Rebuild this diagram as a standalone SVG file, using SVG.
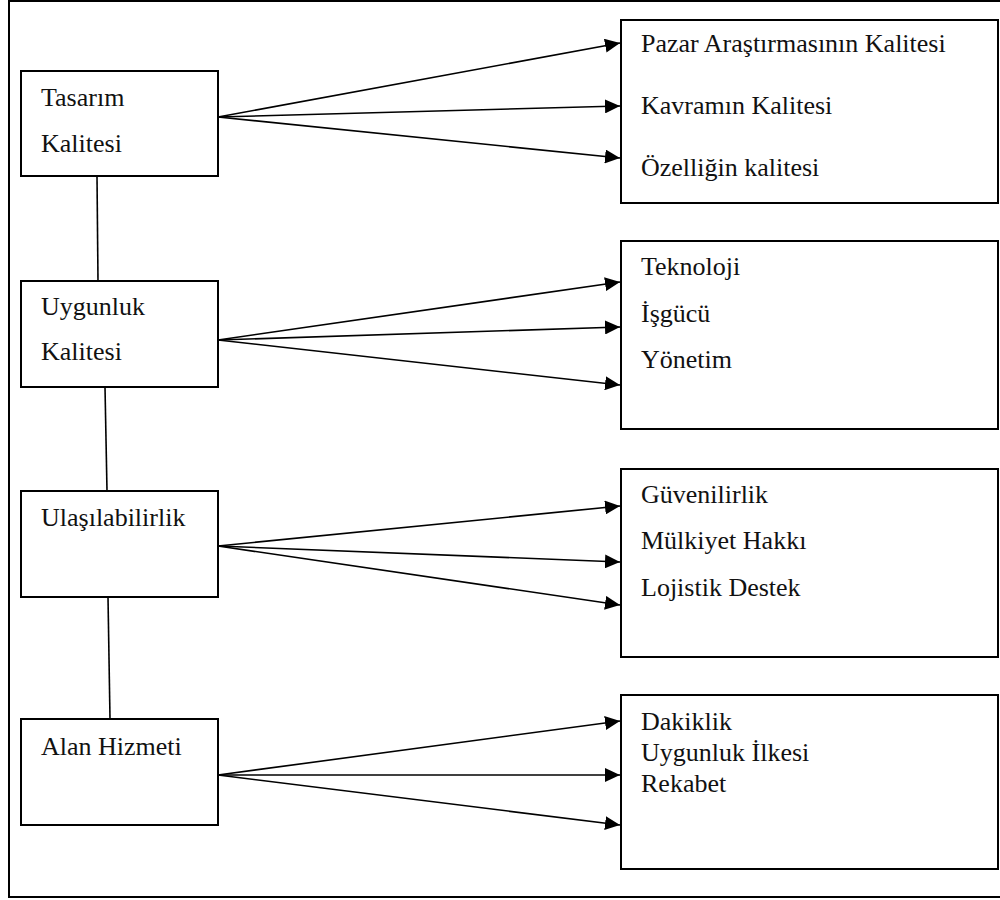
<svg xmlns="http://www.w3.org/2000/svg" width="1000" height="900" viewBox="0 0 1000 900">
<style>
.frame{fill:none;stroke:#000;stroke-width:2}
.box{fill:#fff;stroke:#000;stroke-width:2}
.lbl{font-family:"Liberation Serif","Times New Roman",serif;font-size:26px;fill:#111}
.conn{stroke:#000;stroke-width:1.6;fill:none}
.arr{stroke:#000;stroke-width:1.6;fill:none;marker-end:url(#ah)}
</style>
<defs>
<marker id="ah" markerUnits="userSpaceOnUse" markerWidth="16" markerHeight="14" refX="15" refY="7" orient="auto">
<path d="M0,0 L15,7 L0,14 z" fill="#000"/>
</marker>
</defs>
<rect width="1000" height="900" fill="#fff"/>
<rect class="frame" x="9" y="1" width="1010" height="896"/>
<g id="connectors">
<line class="conn" x1="97" y1="176" x2="98" y2="281"/>
<line class="conn" x1="105" y1="387" x2="107" y2="491"/>
<line class="conn" x1="108" y1="597" x2="110" y2="719"/>
<line class="arr" x1="218" y1="117" x2="620" y2="43"/>
<line class="arr" x1="218" y1="117" x2="620" y2="106"/>
<line class="arr" x1="218" y1="117" x2="620" y2="158"/>
<line class="arr" x1="218" y1="340" x2="620" y2="282"/>
<line class="arr" x1="218" y1="340" x2="620" y2="327"/>
<line class="arr" x1="218" y1="340" x2="620" y2="385"/>
<line class="arr" x1="218" y1="546" x2="620" y2="506"/>
<line class="arr" x1="218" y1="546" x2="620" y2="562"/>
<line class="arr" x1="218" y1="546" x2="620" y2="605"/>
<line class="arr" x1="218" y1="775" x2="620" y2="721"/>
<line class="arr" x1="218" y1="775" x2="620" y2="775"/>
<line class="arr" x1="218" y1="775" x2="620" y2="825"/>
</g>
<g id="tasarim">
<rect class="box" x="21" y="71" width="197" height="105"/>
<text class="lbl" x="41" y="106">Tasarım</text>
<text class="lbl" x="41" y="152">Kalitesi</text>
</g>
<g id="uygunluk">
<rect class="box" x="21" y="281" width="197" height="106"/>
<text class="lbl" x="41" y="315">Uygunluk</text>
<text class="lbl" x="41" y="360">Kalitesi</text>
</g>
<g id="ulasilabilirlik">
<rect class="box" x="21" y="491" width="197" height="106"/>
<text class="lbl" x="41" y="526">Ulaşılabilirlik</text>
</g>
<g id="alan">
<rect class="box" x="21" y="719" width="197" height="106"/>
<text class="lbl" x="41" y="755">Alan Hizmeti</text>
</g>
<g id="tasarim-items">
<rect class="box" x="621" y="20" width="377" height="183"/>
<text class="lbl" x="641" y="52">Pazar Araştırmasının Kalitesi</text>
<text class="lbl" x="641" y="114">Kavramın Kalitesi</text>
<text class="lbl" x="641" y="176">Özelliğin kalitesi</text>
</g>
<g id="uygunluk-items">
<rect class="box" x="621" y="241" width="377" height="188"/>
<text class="lbl" x="641" y="275">Teknoloji</text>
<text class="lbl" x="641" y="322">İşgücü</text>
<text class="lbl" x="641" y="368">Yönetim</text>
</g>
<g id="ulasilabilirlik-items">
<rect class="box" x="621" y="469" width="377" height="188"/>
<text class="lbl" x="641" y="503">Güvenilirlik</text>
<text class="lbl" x="641" y="549">Mülkiyet Hakkı</text>
<text class="lbl" x="641" y="596">Lojistik Destek</text>
</g>
<g id="alan-items">
<rect class="box" x="621" y="695" width="377" height="174"/>
<text class="lbl" x="641" y="730">Dakiklik</text>
<text class="lbl" x="641" y="761">Uygunluk İlkesi</text>
<text class="lbl" x="641" y="792">Rekabet</text>
</g>
</svg>
